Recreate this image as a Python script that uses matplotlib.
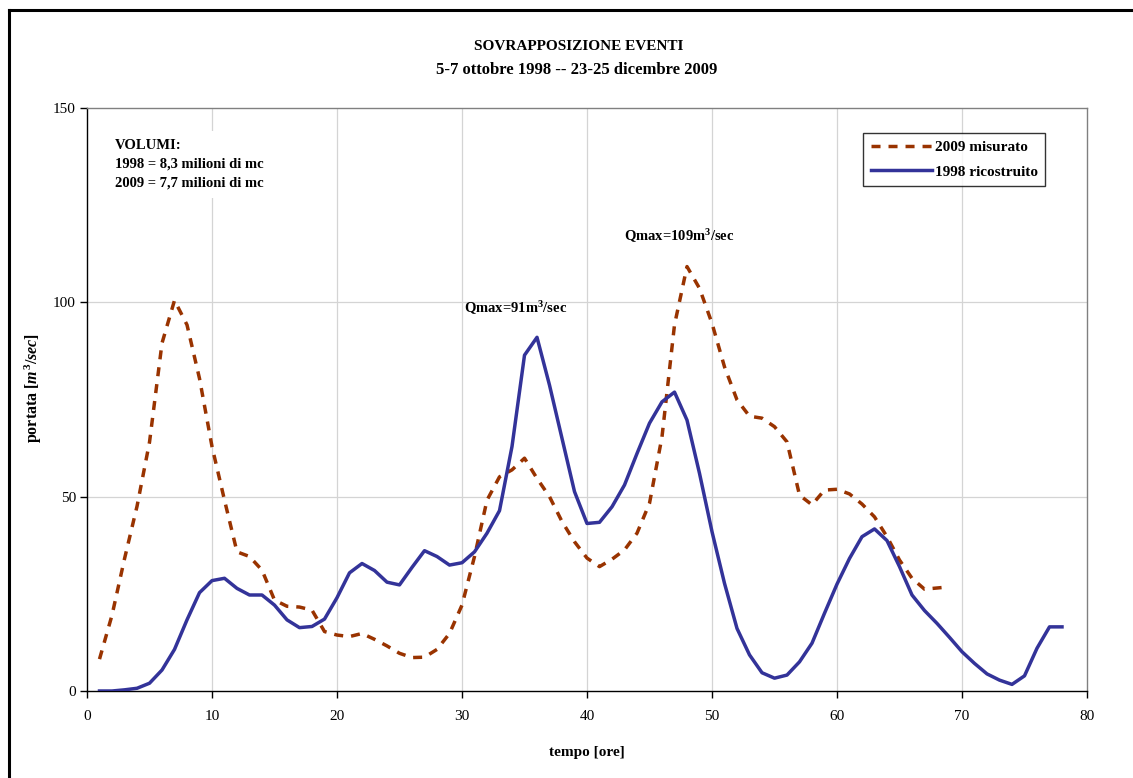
import matplotlib
matplotlib.use("Agg")
import matplotlib.pyplot as plt
from matplotlib.lines import Line2D

plt.rcParams['font.family'] = ['Liberation Serif', 'DejaVu Serif']
plt.rcParams['mathtext.fontset'] = 'custom'
plt.rcParams['mathtext.rm'] = 'Liberation Serif:bold'
plt.rcParams['mathtext.it'] = 'Liberation Serif:italic:bold'
plt.rcParams['mathtext.bf'] = 'Liberation Serif:bold'

# ---- data ----
hours_1998 = list(range(1, 79))
flow_1998 = [0.0, 0.0, 0.3, 0.7, 2.0, 5.4, 10.7, 18.3, 25.3, 28.4,
             29.0, 26.4, 24.7, 24.7, 22.1, 18.3, 16.3, 16.6, 18.5, 24.0,
             30.4, 32.8, 31.0, 28.0, 27.3, 31.8, 36.1, 34.6, 32.4, 33.0,
             35.8, 40.6, 46.4, 62.9, 86.4, 91.0, 78.7, 65.0, 51.3, 43.1,
             43.4, 47.4, 53.0, 61.1, 68.9, 74.4, 76.9, 69.7, 56.0, 41.0,
             27.7, 16.1, 9.3, 4.7, 3.3, 4.1, 7.5, 12.3, 20.0, 27.5,
             34.1, 39.7, 41.7, 38.7, 32.0, 24.7, 20.7, 17.4, 13.8, 10.1,
             7.1, 4.4, 2.8, 1.7, 3.9, 11.0, 16.5, 16.5]

hours_2009 = list(range(1, 70))
flow_2009 = [8.2, 19.5, 34.0, 47.5, 64.0, 89.5, 100.5, 94.2, 80.4, 62.9,
             49.1, 35.8, 34.6, 31.1, 23.4, 21.8, 21.6, 20.8, 15.3, 14.4,
             14.0, 14.8, 13.3, 11.6, 9.7, 8.6, 8.7, 10.7, 14.8, 22.1,
             34.6, 49.1, 55.1, 56.9, 59.9, 54.7, 50.0, 43.6, 38.4, 34.2,
             32.0, 33.9, 36.3, 40.6, 48.3, 65.4, 94.2, 109.2, 103.6, 94.6,
             83.4, 74.9, 70.7, 70.2, 68.0, 64.1, 50.4, 47.9, 51.7, 51.9,
             50.7, 48.1, 44.8, 39.7, 33.7, 29.0, 26.2, 26.5, 26.8]

x_ticks = [0, 10, 20, 30, 40, 50, 60, 70, 80]
y_ticks = [0, 50, 100, 150]

title_lines = ["SOVRAPPOSIZIONE EVENTI", "5-7 ottobre 1998 -- 23-25 dicembre 2009"]
label_2009 = "2009 misurato"
label_1998 = "1998 ricostruito"

# ---- figure ----
W, H = 1133, 778
fig = plt.figure(figsize=(W / 100, H / 100), dpi=100)
ax = fig.add_axes([87 / W, 1 - 691 / H, 1000 / W, 583 / H])

orange = '#993300'
blue = '#333399'

ax.plot(hours_2009, flow_2009, color=orange, lw=2.5, dashes=(2.6, 2.3),
        label=label_2009, zorder=3)
ax.plot(hours_1998, flow_1998, color=blue, lw=2.5, label=label_1998,
        solid_joinstyle='round', zorder=4)

ax.set_xlim(0, 80)
ax.set_ylim(0, 150)
ax.set_xticks(x_ticks)
ax.set_yticks(y_ticks)
ax.tick_params(axis='x', direction='out', length=5, width=1, labelsize=11,
               pad=9, color='black')
ax.tick_params(axis='y', direction='out', length=5, width=1, labelsize=11,
               pad=3, color='black')

# grid
for xv in [10, 20, 30, 40, 50, 60, 70]:
    ax.axvline(xv, color='#d4d4d4', lw=0.9, zorder=1)
for yv in [50, 100]:
    ax.axhline(yv, color='#d4d4d4', lw=0.9, zorder=1)

for side in ['top', 'right']:
    ax.spines[side].set_color('#808080')
    ax.spines[side].set_linewidth(1.0)
ax.spines['left'].set_color('black')
ax.spines['bottom'].set_color('black')
ax.spines['left'].set_linewidth(1.0)
ax.spines['bottom'].set_linewidth(1.0)

ax.set_xlabel('tempo [ore]', fontsize=11, fontweight='bold', labelpad=16)
ax.set_ylabel(r'portata [$\mathit{m}^{3}$/$\mathit{sec}$]', fontsize=11.5,
              fontweight='bold')
ax.yaxis.set_label_coords(-(87 - 44) / 1000, 0.52)

# title
fig.text(579 / W, 1 - 46 / H, title_lines[0], ha='center', va='center',
         fontsize=11, fontweight='bold')
fig.text(577 / W, 1 - 70 / H, title_lines[1], ha='center', va='center',
         fontsize=12, fontweight='bold')

# volumes note (white background hides the grid)
ax.text(0.028, 0.947, "VOLUMI:\n1998 = 8,3 milioni di mc\n2009 = 7,7 milioni di mc",
        transform=ax.transAxes, ha='left', va='top', fontsize=10.5,
        fontweight='bold', linespacing=1.6, zorder=5,
        bbox=dict(facecolor='white', edgecolor='none', pad=6))

# annotations
ax.text(34.3, 98.5, r'Qmax=91m$^{3}$/sec', ha='center', va='center',
        fontsize=10.5, fontweight='bold', zorder=5)
ax.text(47.4, 117, r'Qmax=109m$^{3}$/sec', ha='center', va='center',
        fontsize=10.5, fontweight='bold', zorder=5)

# legend
leg = ax.legend(loc='upper left', bbox_to_anchor=(0.776, 0.957),
                prop={'family': 'Liberation Serif', 'weight': 'bold', 'size': 11},
                frameon=True, fancybox=False, handlelength=4.0,
                handletextpad=0.2, borderpad=0.5, labelspacing=0.7,
                borderaxespad=0)
leg.get_frame().set_edgecolor('black')
leg.get_frame().set_linewidth(1.0)

# outer figure border (left + top visible)
fig.add_artist(Line2D([9 / W, 9 / W], [0, 1 - 10 / H], color='black', lw=2.2,
                      transform=fig.transFigure))
fig.add_artist(Line2D([9 / W, 1], [1 - 10 / H, 1 - 10 / H], color='black', lw=2.2,
                      transform=fig.transFigure))

fig.savefig('out.png', dpi=100)
